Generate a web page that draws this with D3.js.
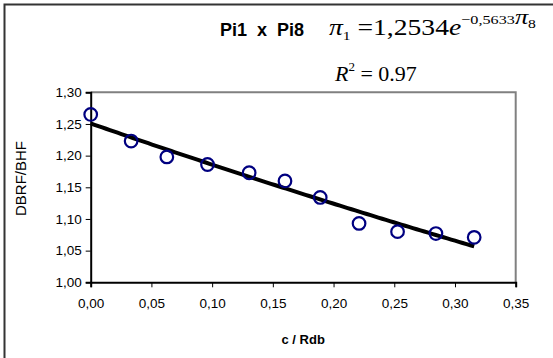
<!DOCTYPE html>
<html><head><meta charset="utf-8">
<script src="https://cdn.jsdelivr.net/npm/d3@7"></script>
<style>html,body{margin:0;padding:0;background:#fff;}svg{display:block;}</style>
</head><body>
<svg id="chart" width="553" height="358"></svg>
<script>
// Data
const xValues = [0.000, 0.0333, 0.0627, 0.0962, 0.1305, 0.160, 0.189, 0.221, 0.2527, 0.2843, 0.3158];
const yValues = [1.265, 1.223, 1.198, 1.186, 1.173, 1.160, 1.134, 1.093, 1.080, 1.077, 1.071];
const xTicks = [0, 0.05, 0.10, 0.15, 0.20, 0.25, 0.30, 0.35];
const yTicks = [1.00, 1.05, 1.10, 1.15, 1.20, 1.25, 1.30];
const titleText = "Pi1  x  Pi8";
const xLabel = "c / Rdb";
const yLabel = "DBRF/BHF";

const svg = d3.select("#chart");
const W = 553, H = 358;
const m = {left: 90.7, top: 92.3, right: 515.7, bottom: 282.3};

svg.append("rect").attr("x",0).attr("y",0).attr("width",W).attr("height",H).attr("fill","#fff");
svg.append("path").attr("d","M4.5,400 V4.5 H700").attr("fill","none").attr("stroke","#333").attr("stroke-width",2);

const x = d3.scaleLinear().domain([0,0.35]).range([m.left,m.right]);
const y = d3.scaleLinear().domain([1.0,1.3]).range([m.bottom,m.top]);
const fmt = d => d3.format(".2f")(d).replace(".", ",");

svg.append("path").attr("d",`M${m.left},${m.top} H${m.right} V${m.bottom}`)
  .attr("fill","none").attr("stroke","#808080").attr("stroke-width",2);

const yAxis = d3.axisLeft(y).tickValues(yTicks).tickFormat(fmt).tickSize(5).tickPadding(4);
const gy = svg.append("g").attr("transform",`translate(${m.left},0)`).call(yAxis);
const xAxis = d3.axisBottom(x).tickValues(xTicks).tickFormat(fmt).tickSize(5).tickPadding(11);
const gx = svg.append("g").attr("transform",`translate(0,${m.bottom})`).call(xAxis);
[gx, gy].forEach(g => {
  g.select(".domain").attr("stroke","#000").attr("stroke-width",2);
  g.selectAll(".tick line").attr("stroke","#000").attr("stroke-width",1);
  g.selectAll(".tick text").attr("font-family","Liberation Sans, Arial, sans-serif").attr("font-size",13.5).attr("fill","#000");
});

// exponential least-squares fit from data
const lnY = yValues.map(Math.log);
const mx = d3.mean(xValues), my = d3.mean(lnY);
const b = d3.sum(xValues.map((v,i)=>(v-mx)*(lnY[i]-my))) / d3.sum(xValues.map(v=>(v-mx)*(v-mx)));
const a = Math.exp(my - b*mx);
const xs = d3.range(0, 101).map(i => d3.min(xValues) + i/100*(d3.max(xValues)-d3.min(xValues)));
svg.append("path").datum(xs)
  .attr("d", d3.line().x(d=>x(d)).y(d=>y(a*Math.exp(b*d))))
  .attr("fill","none").attr("stroke","#000").attr("stroke-width",4);

svg.append("g").selectAll("circle").data(xValues).join("circle")
  .attr("cx",(d)=>x(d)).attr("cy",(d,i)=>y(yValues[i])).attr("r",6.3)
  .attr("fill","none").attr("stroke","#000080").attr("stroke-width",2.2);

svg.append("text").attr("x",262).attr("y",36).attr("text-anchor","middle")
  .attr("font-family","Liberation Sans, Arial, sans-serif").attr("font-weight","bold").attr("font-size",18)
  .style("white-space","pre").text(titleText);

const f = svg.append("text").attr("transform","translate(329,35) scale(1.2,1)")
  .attr("font-family","Liberation Serif, Times New Roman, serif").attr("font-size",23);
f.append("tspan").attr("font-style","italic").text("π");
f.append("tspan").attr("font-size",13).attr("dy",5).text("1");
f.append("tspan").attr("dy",-5).text(" =1,2534");
f.append("tspan").attr("font-style","italic").text("e");
f.append("tspan").attr("font-size",13.5).attr("dy",-11).text("−0,5633");
f.append("tspan").attr("font-size",22).attr("font-style","italic").text("π");
f.append("tspan").attr("font-size",13).attr("dy",4).text("8");

const r = svg.append("text").attr("x",335).attr("y",81)
  .attr("font-family","Liberation Serif, Times New Roman, serif").attr("font-size",22);
r.append("tspan").attr("font-style","italic").text("R");
r.append("tspan").attr("font-size",13).attr("dy",-10).text("2");
r.append("tspan").attr("dy",10).text(" = 0.97");

svg.append("text").attr("x",(m.left+m.right)/2).attr("y",344).attr("text-anchor","middle")
  .attr("font-family","Liberation Sans, Arial, sans-serif").attr("font-weight","bold").attr("font-size",13)
  .text(xLabel);
svg.append("text").attr("transform","translate(26,178.5) rotate(-90)").attr("text-anchor","middle")
  .attr("font-family","Liberation Sans, Arial, sans-serif").attr("font-size",15)
  .text(yLabel);
</script>
</body></html>
